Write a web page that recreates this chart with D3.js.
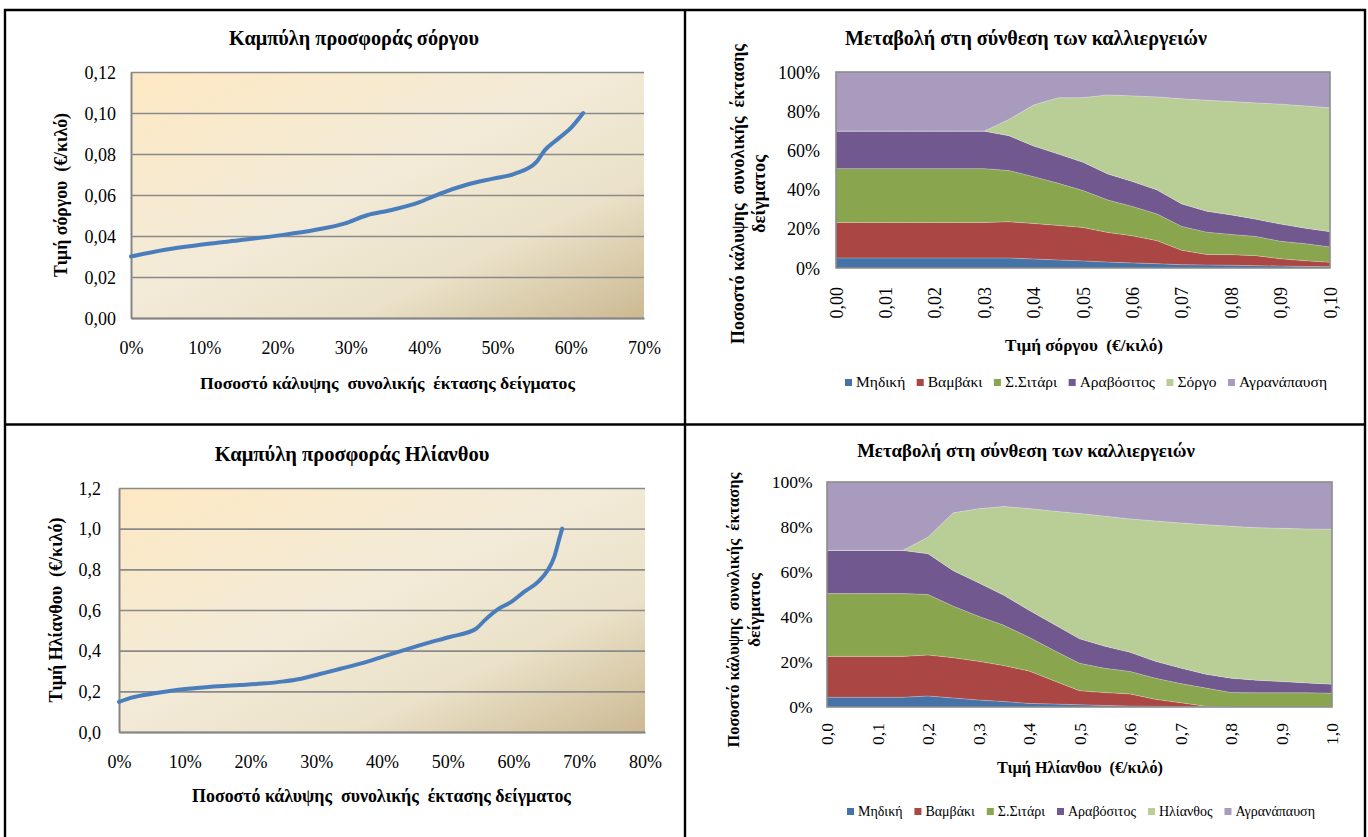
<!DOCTYPE html>
<html><head><meta charset="utf-8">
<script src="https://cdn.jsdelivr.net/npm/d3@7"></script>
<style>
html,body{margin:0;padding:0;background:#fff;}
svg{display:block;font-family:"Liberation Serif","Times New Roman",serif;}
</style>
</head><body>
<svg id="c" width="1368" height="837"></svg>
<script>
// ---------------- DATA ----------------
// Supply curve of sorghum: % of total sample area vs price (€/kg)
const sorghumSupplyShare = [0, 4.65, 8.8, 14.8, 20.2, 24.9, 29.1, 32.1, 35.7, 39.2, 42.2, 45.8, 49.4, 52.4, 55.3, 56.5, 58.3, 60.1, 61.7];
const sorghumSupplyPrice = [0.030, 0.0333, 0.0354, 0.0379, 0.0403, 0.0428, 0.046, 0.050, 0.0528, 0.0563, 0.0607, 0.065, 0.068, 0.0704, 0.076, 0.082, 0.0875, 0.093, 0.100];

// Supply curve of sunflower
const sunflowerSupplyShare = [0, 1.9, 5.2, 8.5, 11.8, 15.1, 18.4, 21.8, 25.1, 27.7, 30.4, 33.7, 37.0, 40.3, 43.6, 47.0, 50.3, 54.3, 55.6, 57.6, 59.6, 61.6, 63.9, 65.2, 66.2, 66.9, 67.4];
const sunflowerSupplyPrice = [0.148, 0.169, 0.189, 0.205, 0.216, 0.225, 0.231, 0.238, 0.249, 0.262, 0.284, 0.311, 0.339, 0.372, 0.405, 0.438, 0.467, 0.508, 0.549, 0.603, 0.639, 0.689, 0.743, 0.795, 0.861, 0.943, 1.0];

// Tick values / labels
const sorghumPriceTicks = [0, 0.02, 0.04, 0.06, 0.08, 0.10, 0.12];
const sorghumPriceTickLabels = ["0,00", "0,02", "0,04", "0,06", "0,08", "0,10", "0,12"];
const sorghumShareTicks = [0, 10, 20, 30, 40, 50, 60, 70];
const sorghumShareTickLabels = ["0%", "10%", "20%", "30%", "40%", "50%", "60%", "70%"];
const sunflowerPriceTicks = [0, 0.2, 0.4, 0.6, 0.8, 1.0, 1.2];
const sunflowerPriceTickLabels = ["0,0", "0,2", "0,4", "0,6", "0,8", "1,0", "1,2"];
const sunflowerShareTicks = [0, 10, 20, 30, 40, 50, 60, 70, 80];
const sunflowerShareTickLabels = ["0%", "10%", "20%", "30%", "40%", "50%", "60%", "70%", "80%"];
const pctTicks = [0, 0.2, 0.4, 0.6, 0.8, 1.0];
const pctTickLabels = ["0%", "20%", "40%", "60%", "80%", "100%"];
const sorghumAreaTicks = [0, 0.01, 0.02, 0.03, 0.04, 0.05, 0.06, 0.07, 0.08, 0.09, 0.10];
const sorghumAreaTickLabels = ["0,00", "0,01", "0,02", "0,03", "0,04", "0,05", "0,06", "0,07", "0,08", "0,09", "0,10"];
const sunflowerAreaTicks = [0, 0.1, 0.2, 0.3, 0.4, 0.5, 0.6, 0.7, 0.8, 0.9, 1.0];
const sunflowerAreaTickLabels = ["0,0", "0,1", "0,2", "0,3", "0,4", "0,5", "0,6", "0,7", "0,8", "0,9", "1,0"];

// Crop composition vs sorghum price (% of area)
const sorghumPrices = [0, 0.005, 0.01, 0.015, 0.02, 0.025, 0.03, 0.035, 0.04, 0.045, 0.05, 0.055, 0.06, 0.065, 0.07, 0.075, 0.08, 0.085, 0.09, 0.095, 0.10];
const alfalfaS = [5.1, 5.1, 5.1, 5.1, 5.1, 5.1, 5.1, 5.1, 4.6, 4.1, 3.6, 3.0, 2.6, 2.2, 1.7, 1.5, 1.4, 1.2, 1.0, 0.8, 0.7];
const cottonS  = [18.1, 18.1, 18.1, 18.1, 18.1, 18.1, 18.1, 18.5, 18.1, 17.6, 17.1, 15.1, 13.8, 11.7, 7.3, 5.4, 5.4, 5.1, 3.7, 2.9, 2.2];
const wheatS   = [27.5, 27.5, 27.5, 27.5, 27.5, 27.5, 27.5, 26.1, 23.9, 21.5, 18.8, 16.6, 15.0, 13.6, 12.2, 11.4, 10.3, 9.8, 8.9, 8.7, 7.8];
const maizeS   = [19.1, 19.1, 19.1, 19.1, 19.1, 19.1, 19.1, 17.8, 15.6, 14.9, 14.4, 13.3, 12.7, 12.3, 11.5, 10.7, 10.0, 8.8, 8.8, 7.9, 7.8];
const sorghumS = [0, 0, 0, 0, 0, 0, 0, 8.3, 20.9, 28.7, 33.0, 40.3, 43.7, 47.5, 53.6, 56.6, 57.8, 59.3, 61.2, 62.4, 63.2];
const fallowS  = [30.2, 30.2, 30.2, 30.2, 30.2, 30.2, 30.2, 24.2, 16.9, 13.2, 13.1, 11.7, 12.2, 12.7, 13.7, 14.4, 15.1, 15.8, 16.4, 17.3, 18.3];

// Crop composition vs sunflower price (% of area)
const sunflowerPrices = [0, 0.05, 0.1, 0.15, 0.2, 0.25, 0.3, 0.35, 0.4, 0.45, 0.5, 0.55, 0.6, 0.65, 0.7, 0.75, 0.8, 0.85, 0.9, 0.95, 1.0];
const alfalfaH   = [4.3, 4.3, 4.3, 4.3, 4.9, 4.0, 3.1, 2.4, 1.6, 1.3, 1.0, 0.7, 0.4, 0.3, 0.2, 0.1, 0, 0, 0, 0, 0];
const cottonH    = [18.2, 18.2, 18.2, 18.2, 18.2, 17.9, 17.2, 16.0, 14.4, 10.3, 6.2, 5.7, 5.4, 3.1, 1.7, 0.2, 0, 0, 0, 0, 0];
const wheatH     = [27.9, 27.9, 27.9, 27.9, 26.9, 22.9, 20.0, 17.9, 15.0, 13.5, 12.2, 10.8, 10.0, 9.4, 8.5, 8.1, 6.4, 6.3, 6.3, 6.3, 6.1];
const maizeH     = [19.2, 19.2, 19.2, 19.2, 18.1, 15.8, 14.9, 13.4, 12.0, 11.6, 10.9, 9.8, 8.5, 7.5, 6.9, 6.2, 6.4, 5.6, 5.0, 4.4, 4.0];
const sunflowerH = [0, 0, 0, 0, 7.4, 25.7, 32.9, 39.4, 45.2, 50.3, 55.7, 57.8, 59.3, 62.4, 64.5, 66.4, 67.5, 67.8, 68.1, 68.4, 68.9];
const fallowH    = [30.4, 30.4, 30.4, 30.4, 24.5, 13.7, 11.9, 10.9, 11.8, 13.0, 14.0, 15.2, 16.4, 17.3, 18.2, 19.0, 19.7, 20.3, 20.6, 20.9, 21.0];

const cropNamesS = ["Μηδική", "Βαμβάκι", "Σ.Σιτάρι", "Αραβόσιτος", "Σόργο", "Αγρανάπαυση"];
const cropNamesH = ["Μηδική", "Βαμβάκι", "Σ.Σιτάρι", "Αραβόσιτος", "Ηλίανθος", "Αγρανάπαυση"];
const cropColors = ["#4572A7", "#AA4643", "#89A54E", "#71588F", "#B9CD96", "#A99BBD"];

// ---------------- DRAW ----------------
const svg = d3.select("#c");
const defs = svg.append("defs");
const grad = defs.append("linearGradient").attr("id", "parch")
  .attr("x1", 0).attr("y1", 0).attr("x2", 1).attr("y2", 1);
[[0, "#fde8c2"], [0.45, "#f3ebd8"], [0.72, "#eae1c8"], [1, "#ccb992"]].forEach(s =>
  grad.append("stop").attr("offset", s[0]).attr("stop-color", s[1]));

// frame of the table
const frame = svg.append("g").attr("stroke", "#000").attr("stroke-width", 2.4);
frame.append("line").attr("x1", 4).attr("x2", 1366).attr("y1", 10).attr("y2", 10);
frame.append("line").attr("x1", 4).attr("x2", 1366).attr("y1", 424.5).attr("y2", 424.5);
frame.append("line").attr("x1", 5).attr("x2", 5).attr("y1", 9).attr("y2", 837);
frame.append("line").attr("x1", 685).attr("x2", 685).attr("y1", 9).attr("y2", 837);
frame.append("line").attr("x1", 1365).attr("x2", 1365).attr("y1", 9).attr("y2", 837);

function fit(sel, w) {
  const cur = sel.node().getComputedTextLength();
  const fs = parseFloat(sel.attr("font-size"));
  sel.attr("font-size", fs * w / cur);
  return sel;
}
function label(txt, cx, by, w, fs, bold, rot) {
  const t = svg.append("text").style("white-space", "pre").text(txt).attr("font-size", fs)
    .attr("font-weight", bold ? "bold" : "normal").attr("text-anchor", "middle")
    .attr("fill", "#000");
  if (rot) t.attr("transform", `translate(${cx},${by}) rotate(-90)`);
  else t.attr("x", cx).attr("y", by);
  if (w) fit(t, w);
  return t;
}

function lineChart(o) {
  const x = d3.scaleLinear().domain(o.xDomain).range([o.left, o.right]);
  const y = d3.scaleLinear().domain(o.yDomain).range([o.bottom, o.top]);
  svg.append("rect").attr("x", o.left).attr("y", o.top)
    .attr("width", o.right - o.left).attr("height", o.bottom - o.top).attr("fill", "url(#parch)");
  // grid
  const grid = svg.append("g").attr("transform", `translate(${o.left},0)`)
    .call(d3.axisLeft(y).tickValues(o.yTicks).tickSize(-(o.right - o.left)).tickFormat(""));
  grid.select(".domain").remove();
  grid.selectAll("line").attr("stroke", "#8a8a8a").attr("stroke-width", 1.6);
  // y labels
  const ya = svg.append("g").attr("transform", `translate(${o.left},0)`)
    .call(d3.axisLeft(y).tickValues(o.yTicks).tickFormat((d, i) => o.yLabels[i]).tickSize(0).tickPadding(o.yPad));
  ya.select(".domain").attr("stroke", "#868686").attr("stroke-width", 2);
  ya.selectAll("text").attr("font-size", 18).attr("font-family", "Liberation Serif").attr("dy", "0.34em");
  // x labels
  const xa = svg.append("g").attr("transform", `translate(0,${o.bottom})`)
    .call(d3.axisBottom(x).tickValues(o.xTicks).tickFormat((d, i) => o.xLabels[i]).tickSize(0));
  xa.select(".domain").attr("stroke", "#868686").attr("stroke-width", 2);
  xa.selectAll("text").attr("font-size", 18).attr("font-family", "Liberation Serif").attr("dy", 0).attr("y", o.xLabBase - o.bottom);
  // line
  const pts = o.xs.map((v, i) => [v, o.ys[i]]);
  svg.append("path").datum(pts)
    .attr("fill", "none").attr("stroke", "#4a7dbb").attr("stroke-width", 4)
    .attr("stroke-linecap", "round").attr("stroke-linejoin", "round")
    .attr("d", d3.line().x(d => x(d[0])).y(d => y(d[1])).curve(d3.curveMonotoneX));
}

function areaChart(o) {
  const x = d3.scaleLinear().domain(o.xDomain).range([o.left, o.right]);
  const y = d3.scaleLinear().domain([0, 1]).range([o.bottom, o.top]);
  const keys = o.names;
  const rows = o.xs.map((p, i) => {
    const r = { price: p };
    keys.forEach((k, j) => r[k] = o.series[j][i]);
    return r;
  });
  const stacked = d3.stack().keys(keys).offset(d3.stackOffsetExpand)(rows);
  const area = d3.area().x(d => x(d.data.price)).y0(d => y(d[0])).y1(d => y(d[1]));
  svg.append("g").selectAll("path").data(stacked).join("path")
    .attr("fill", (d, i) => cropColors[i]).attr("d", area);
  // subtle light separators
  const topLine = d3.line().x(d => x(d.data.price)).y(d => y(d[1]));
  svg.append("g").selectAll("path").data(stacked.slice(0, 5)).join("path")
    .attr("fill", "none").attr("stroke", "#ffffff").attr("stroke-opacity", 0.35).attr("stroke-width", 0.8)
    .attr("d", topLine);
  // border
  svg.append("rect").attr("x", o.left).attr("y", o.top)
    .attr("width", o.right - o.left).attr("height", o.bottom - o.top)
    .attr("fill", "none").attr("stroke", "#8c8c8c").attr("stroke-width", 1.6);
  // y labels
  const ya = svg.append("g").attr("transform", `translate(${o.left},0)`)
    .call(d3.axisLeft(y).tickValues(pctTicks).tickFormat((d, i) => pctTickLabels[i]).tickSize(0).tickPadding(o.yPad));
  ya.select(".domain").remove();
  ya.selectAll("text").attr("font-size", o.tickFs).attr("font-family", "Liberation Serif").attr("dy", "0.34em");
  // x labels (rotated)
  const xa = svg.append("g").attr("transform", `translate(0,${o.bottom})`)
    .call(d3.axisBottom(x).tickValues(o.xTicks).tickFormat((d, i) => o.xLabels[i]).tickSize(0));
  xa.select(".domain").remove();
  xa.selectAll("text").attr("font-size", o.tickFs).attr("font-family", "Liberation Serif")
    .attr("transform", "rotate(-90)").attr("text-anchor", "end")
    .attr("x", -o.xGap).attr("y", 0).attr("dy", "0.34em");
  // legend
  const lg = svg.append("g");
  const items = keys.map((k, i) => {
    const g = lg.append("g");
    g.append("rect").attr("width", 7).attr("height", 7).attr("y", o.legBase - 8).attr("fill", cropColors[i]);
    const t = g.append("text").text(k).attr("font-size", o.legFs).attr("y", o.legBase).attr("x", 11);
    return { g, w: 11 + t.node().getComputedTextLength() };
  });
  const total = d3.sum(items, d => d.w);
  const gap = (o.legRight - o.legLeft - total) / (items.length - 1);
  let cx = o.legLeft;
  items.forEach(it => { it.g.attr("transform", `translate(${cx},0)`); cx += it.w + gap; });
}

// ---- Top-left: sorghum supply curve
label("Καμπύλη προσφοράς σόργου", 354, 45, 250, 20, true);
lineChart({
  left: 131, right: 644, top: 72, bottom: 318,
  xDomain: [0, 70], yDomain: [0, 0.12],
  xTicks: sorghumShareTicks, xLabels: sorghumShareTickLabels,
  yTicks: sorghumPriceTicks, yLabels: sorghumPriceTickLabels,
  yPad: 15, xLabBase: 354,
  xs: sorghumSupplyShare, ys: sorghumSupplyPrice
});
label("Ποσοστό κάλυψης  συνολικής  έκτασης δείγματος", 387.5, 389, 375, 18, true);
label("Τιμή σόργου  (€/κιλό)", 67, 195, 164, 18, true, true);

// ---- Bottom-left: sunflower supply curve
label("Καμπύλη προσφοράς Ηλίανθου", 352, 461, 275, 20, true);
lineChart({
  left: 119, right: 645, top: 488, bottom: 732,
  xDomain: [0, 80], yDomain: [0, 1.2],
  xTicks: sunflowerShareTicks, xLabels: sunflowerShareTickLabels,
  yTicks: sunflowerPriceTicks, yLabels: sunflowerPriceTickLabels,
  yPad: 18, xLabBase: 768,
  xs: sunflowerSupplyShare, ys: sunflowerSupplyPrice
});
label("Ποσοστό κάλυψης  συνολικής  έκτασης δείγματος", 381.5, 802, 379, 18, true);
label("Τιμή Ηλίανθου  (€/κιλό)", 62, 610, 185, 18, true, true);

// ---- Top-right: crop composition vs sorghum price
label("Μεταβολή στη σύνθεση των καλλιεργειών", 1026, 45, 362, 20, true);
areaChart({
  left: 836, right: 1330, top: 72, bottom: 268,
  xDomain: [0, 0.10], xs: sorghumPrices,
  series: [alfalfaS, cottonS, wheatS, maizeS, sorghumS, fallowS], names: cropNamesS,
  xTicks: sorghumAreaTicks, xLabels: sorghumAreaTickLabels,
  yPad: 16, xGap: 19, tickFs: 18,
  legLeft: 845, legRight: 1327, legBase: 387, legFs: 15.5
});
label("Ποσοστό κάλυψης  συνολικής  έκτασης", 744, 194, 300, 17, true, true);
label("δείγματος", 765, 194, 78, 17, true, true);
label("Τιμή σόργου  (€/κιλό)", 1084, 351, 158, 17, true);

// ---- Bottom-right: crop composition vs sunflower price
label("Μεταβολή στη σύνθεση των καλλιεργειών", 1026, 457, 338, 19, true);
areaChart({
  left: 827, right: 1332, top: 482, bottom: 707,
  xDomain: [0, 1.0], xs: sunflowerPrices,
  series: [alfalfaH, cottonH, wheatH, maizeH, sunflowerH, fallowH], names: cropNamesH,
  xTicks: sunflowerAreaTicks, xLabels: sunflowerAreaTickLabels,
  yPad: 14.5, xGap: 16, tickFs: 17.5,
  legLeft: 847, legRight: 1315, legBase: 816, legFs: 14
});
label("Ποσοστό κάλυψης  συνολικής  έκτασης", 739, 610, 275, 16, true, true);
label("δείγματος", 760, 610, 74, 16, true, true);
label("Τιμή Ηλίανθου  (€/κιλό)", 1080, 773, 166, 17, true);
</script>
</body></html>
